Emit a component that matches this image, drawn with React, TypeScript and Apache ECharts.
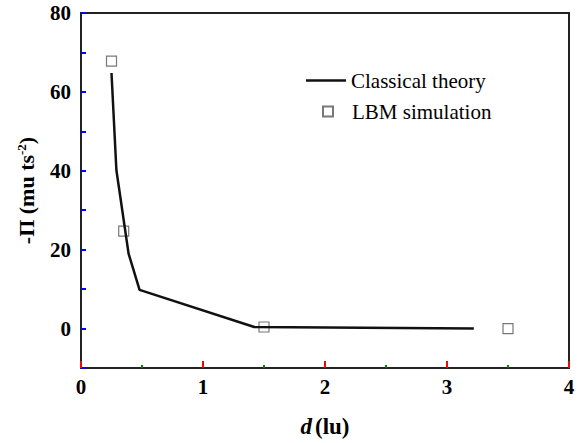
import React, { useEffect, useRef } from "react";
import * as echarts from "echarts";

const theoryX = [0.25, 0.29, 0.39, 0.48, 1.42, 3.22];
const theoryY = [64.8, 40.2, 19.0, 9.8, 0.4, 0.0];
const lbmX = [0.25, 0.35, 1.5, 3.5];
const lbmY = [67.8, 24.7, 0.4, 0.0];

const FONT = "Liberation Serif";

export default function App() {
  const ref = useRef<HTMLDivElement>(null);
  useEffect(() => {
    const chart = echarts.init(ref.current!, null, { renderer: "svg" });
    chart.setOption({
      animation: false,
      backgroundColor: "#fff",
      grid: { left: 81, right: 10, top: 13, bottom: 66, show: true, borderColor: "#222", borderWidth: 2, backgroundColor: "transparent" },
      xAxis: {
        type: "value",
        min: 0,
        max: 4,
        interval: 1,
        axisLine: { show: true, onZero: false, lineStyle: { color: "#222", width: 2 } },
        axisTick: { show: true, inside: true, length: 7, lineStyle: { color: "red", width: 2 } },
        minorTick: { show: true, splitNumber: 2, length: 3, lineStyle: { color: "green", width: 2 } },
        splitLine: { show: false },
        minorSplitLine: { show: false },
        axisLabel: { color: "#000", fontFamily: FONT, fontWeight: "bold", fontSize: 21, margin: 8 },
        name: "{i|d} {b|(lu)}",
        nameLocation: "middle",
        nameGap: 47,
        nameTextStyle: {
          color: "#000",
          fontFamily: FONT,
          rich: {
            i: { fontFamily: FONT, fontWeight: "bold", fontStyle: "italic", fontSize: 23, color: "#000" },
            b: { fontFamily: FONT, fontWeight: "bold", fontSize: 23, color: "#000" },
          },
        },
      },
      yAxis: {
        type: "value",
        min: -10,
        max: 80,
        interval: 10,
        axisLine: { show: true, onZero: false, lineStyle: { color: "#222", width: 2 } },
        axisTick: { show: true, inside: true, length: 5, lineStyle: { color: "blue", width: 2 } },
        splitLine: { show: false },
        axisLabel: {
          color: "#000",
          fontFamily: FONT,
          fontWeight: "bold",
          fontSize: 21,
          margin: 10,
          formatter: (v: number) => (Math.round(v) % 20 === 0 ? String(Math.round(v)) : ""),
        },
        name: "{a|-Π (mu ts}{s|-2}{a|)}",
        nameLocation: "middle",
        nameGap: 44,
        nameRotate: 90,
        nameTextStyle: {
          color: "#000",
          fontFamily: FONT,
          rich: {
            a: { fontFamily: FONT, fontWeight: "bold", fontSize: 22, color: "#000", verticalAlign: "bottom" },
            s: { fontFamily: FONT, fontWeight: "bold", fontSize: 13, color: "#000", verticalAlign: "top", padding: [0, 0, 8, 0] },
          },
        },
      },
      legend: [
        {
          data: [{ name: "Classical theory", icon: "rect" }],
          left: 306,
          top: 70,
          padding: 0,
          itemWidth: 40,
          itemHeight: 2.5,
          itemStyle: { color: "#111" },
          textStyle: { fontFamily: FONT, fontSize: 21, color: "#000" },
        },
        {
          data: ["LBM simulation"],
          left: 322,
          top: 101,
          padding: 0,
          itemWidth: 10,
          itemHeight: 10,
          textStyle: { fontFamily: FONT, fontSize: 21, color: "#000", padding: [0, 0, 0, 14] },
        },
      ],
      series: [
        {
          name: "Classical theory",
          type: "line",
          symbol: "none",
          data: theoryX.map((x, i) => [x, theoryY[i]]),
          lineStyle: { color: "#111", width: 2.5 },
          itemStyle: { color: "#111" },
        },
        {
          name: "LBM simulation",
          type: "scatter",
          symbol: "rect",
          symbolSize: 10,
          data: lbmX.map((x, i) => [x, lbmY[i]]),
          itemStyle: { color: "#fff", borderColor: "#555", borderWidth: 1.2 },
        },
      ],
    });
    return () => chart.dispose();
  }, []);
  return (
    <div
      ref={ref}
      style={{ position: "fixed", left: 0, top: 0, width: 579, height: 443, background: "#fff" }}
    />
  );
}
